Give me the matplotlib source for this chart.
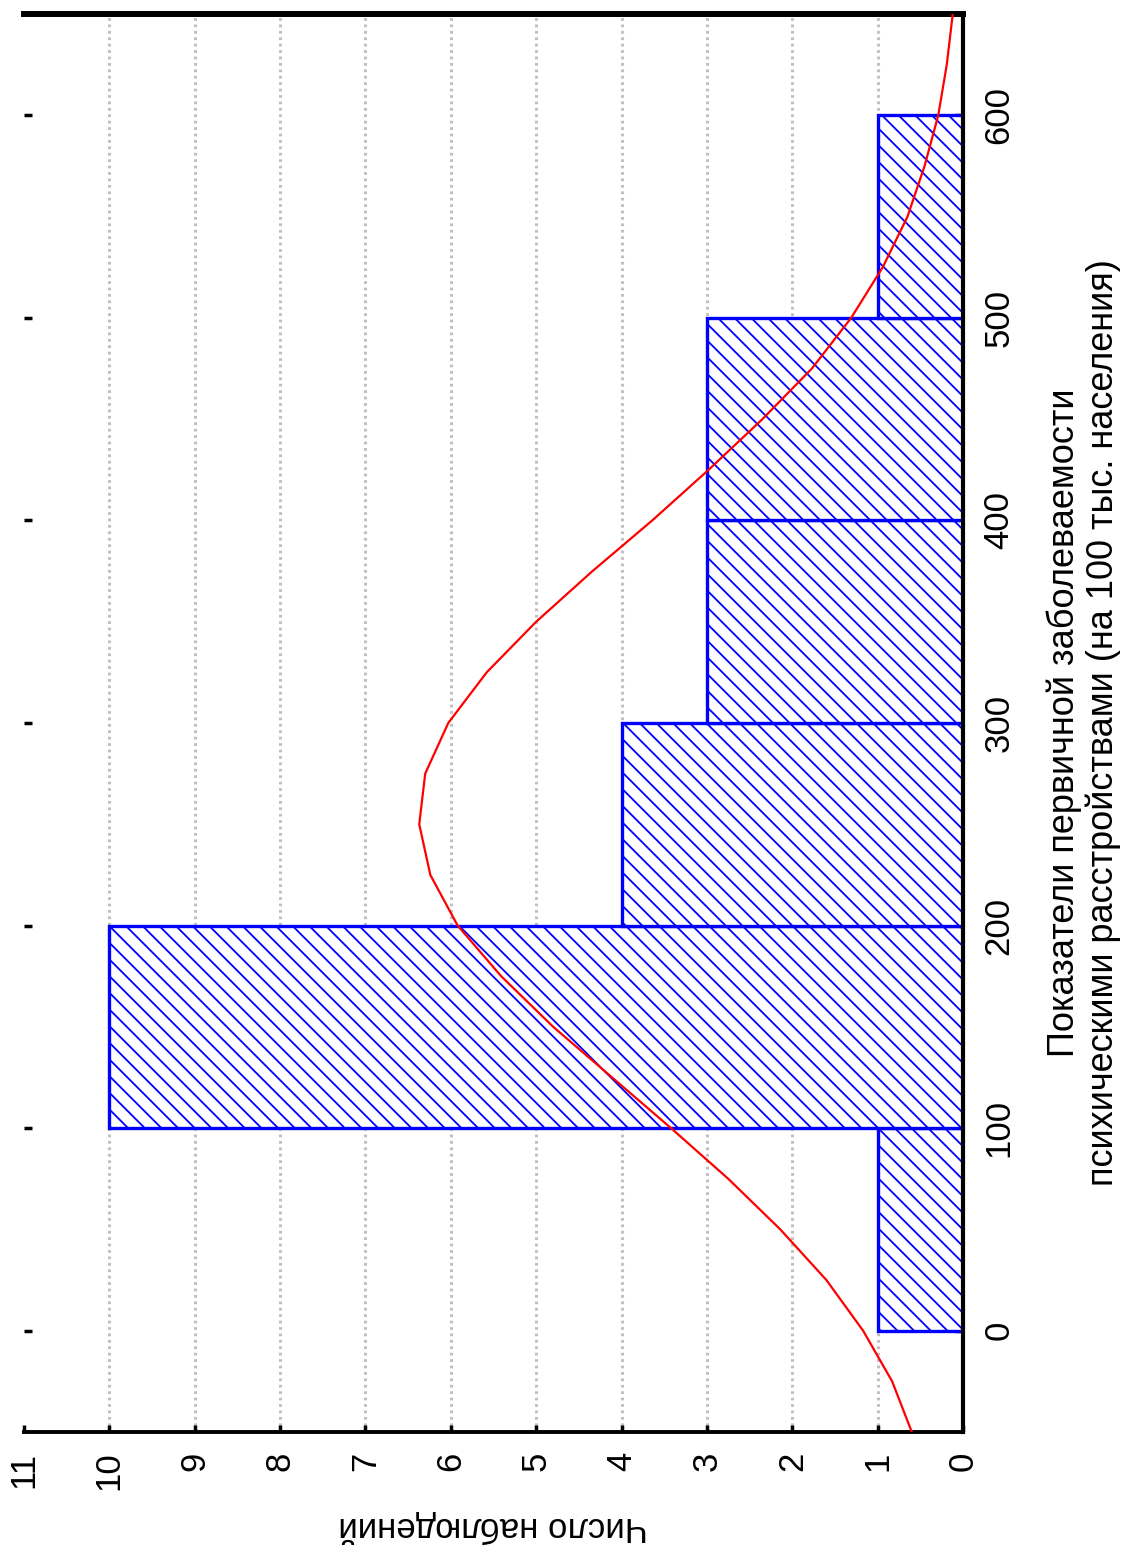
import numpy as np
import matplotlib
matplotlib.use("Agg")
import matplotlib.pyplot as plt

plt.rcParams['font.family'] = ['Liberation Sans', 'DejaVu Sans']
plt.rcParams['hatch.linewidth'] = 1.3

# histogram bins (left edges) and counts
bin_left = [0, 100, 200, 300, 400, 500]
counts = [1, 10, 4, 3, 3, 1]
bin_width = 100

# expected normal curve, read at fixed points
curve_val = [-50, -25, 0, 25, 50, 75, 100, 125, 150, 175, 200, 225, 250, 275,
             300, 325, 350, 375, 400, 425, 450, 475, 500, 525, 550, 575, 600,
             625, 650]
curve_cnt = [0.60, 0.83, 1.17, 1.60, 2.14, 2.75, 3.42, 4.11, 4.80, 5.41, 5.92,
             6.24, 6.37, 6.30, 6.03, 5.58, 5.00, 4.34, 3.64, 2.98, 2.35, 1.77,
             1.31, 0.94, 0.65, 0.45, 0.29, 0.19, 0.12]

val_ticks = [0, 100, 200, 300, 400, 500, 600]
cnt_ticks = list(range(0, 12))

val_label = ("Показатели первичной заболеваемости\n"
             "психическими расстройствами (на 100 тыс. населения)")
cnt_label = "Число наблюдений"

fig = plt.figure(figsize=(11.22, 15.48), dpi=100)
ax = fig.add_axes([24 / 1122, 1 - 1432 / 1548, 939 / 1122, 1418 / 1548])

ax.barh(bin_left, counts, height=bin_width, align='edge',
        facecolor='white', edgecolor='#0000ff', linewidth=2.4,
        hatch='\\\\', zorder=2)
ax.plot(curve_cnt, curve_val, color='#ff0000', lw=1.6, zorder=3)

ax.set_xlim(11, 0)
ax.set_ylim(-50, 650)

ax.set_xticks(cnt_ticks)
ax.set_xticklabels([str(t) for t in cnt_ticks], rotation=90)
ax.set_yticks(val_ticks)
ax.set_yticklabels([str(t) for t in val_ticks], rotation=90, va='center')

ax.yaxis.set_ticks_position('both')
ax.tick_params(axis='y', direction='in', length=6, width=2.5,
               labelleft=False, labelright=True, labelsize=25, pad=14)
ax.tick_params(axis='x', direction='in', length=5, width=2.5,
               labelsize=25, pad=14)

ax.set_axisbelow(True)
ax.grid(axis='x', color='#c0c0c0', lw=2.2, ls=(0, (0.9, 1.2)))
gl = ax.xaxis.get_gridlines()
gl[0].set_visible(False)
gl[-1].set_visible(False)

ax.spines['left'].set_visible(False)
ax.spines['top'].set_linewidth(4.3)
ax.spines['right'].set_linewidth(3.0)
ax.spines['bottom'].set_linewidth(2.8)

ax.yaxis.set_label_position('right')
ax.set_ylabel(val_label, rotation=90, fontsize=26, labelpad=22,
              multialignment='center', linespacing=1.15)
ax.set_xlabel(cnt_label, rotation=180, fontsize=25, labelpad=14)

fig.savefig("out.png", dpi=100)
